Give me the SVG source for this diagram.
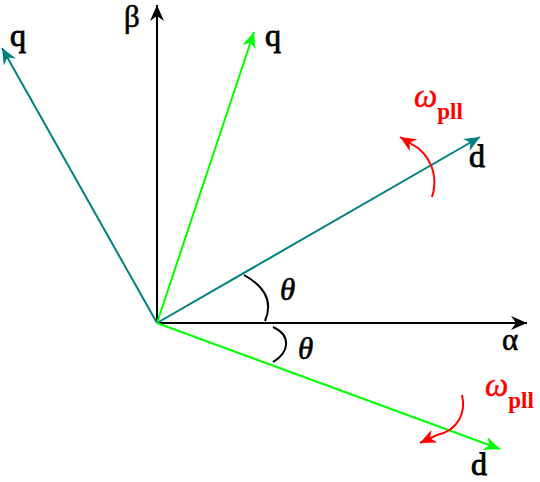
<svg xmlns="http://www.w3.org/2000/svg" width="540" height="482" viewBox="0 0 540 482">
<style>
.ax{stroke:#000;stroke-width:2;fill:none}
.teal{stroke:#008080;stroke-width:2;fill:none}
.grn{stroke:#00ff00;stroke-width:2;fill:none}
.red{stroke:#ff0000;stroke-width:2;fill:none}
.arc{stroke:#000;stroke-width:2;fill:none}
.lbl{font-family:"Liberation Serif","Times New Roman",serif;font-size:32px;fill:#000;stroke:#000;stroke-width:0.9}
.gk{font-family:"Liberation Serif","Times New Roman",serif;font-size:31px;fill:#000;stroke:#000;stroke-width:0.6}
.th{font-family:"Liberation Serif","Times New Roman",serif;font-size:31px;font-style:italic;fill:#000;stroke:#000;stroke-width:0.6}
.om{font-family:"Liberation Serif","Times New Roman",serif;font-size:33px;font-style:italic;fill:#ff0000;stroke:#ff0000;stroke-width:0.5}
.sub{font-size:23px;font-weight:bold;font-style:normal;stroke-width:0}
</style>
<defs>
<marker id="mk" viewBox="-16 -7 17 14" markerWidth="17" markerHeight="14" refX="0" refY="0" orient="auto" markerUnits="userSpaceOnUse"><path d="M0,0 L-16,-7 L-11,0 L-16,7 z" fill="#000"/></marker>
<marker id="mt" viewBox="-16 -7 17 14" markerWidth="17" markerHeight="14" refX="0" refY="0" orient="auto" markerUnits="userSpaceOnUse"><path d="M0,0 L-16,-7 L-11,0 L-16,7 z" fill="#008080"/></marker>
<marker id="mg" viewBox="-16 -7 17 14" markerWidth="17" markerHeight="14" refX="0" refY="0" orient="auto" markerUnits="userSpaceOnUse"><path d="M0,0 L-16,-7 L-11,0 L-16,7 z" fill="#00ff00"/></marker>
<marker id="mr" viewBox="-16 -7 17 14" markerWidth="17" markerHeight="14" refX="0" refY="0" orient="auto" markerUnits="userSpaceOnUse"><path d="M0,0 L-16,-7 L-11,0 L-16,7 z" fill="#ff0000"/></marker>
</defs>
<g id="connectors">
<line class="ax" x1="157" y1="323" x2="527" y2="323" marker-end="url(#mk)"/>
<line class="ax" x1="157" y1="323" x2="157" y2="5" marker-end="url(#mk)"/>
<line class="teal" x1="157" y1="323" x2="2" y2="48" marker-end="url(#mt)"/>
<line class="grn" x1="157" y1="323" x2="254" y2="32" marker-end="url(#mg)"/>
<line class="teal" x1="157" y1="323" x2="480" y2="137" marker-end="url(#mt)"/>
<line class="grn" x1="157" y1="323" x2="500" y2="449" marker-end="url(#mg)"/>
<path class="arc" d="M244,275 C262,285 274,300 265,321"/>
<path class="arc" d="M273,327 C291,335 290,352 273,362"/>
<path class="red" d="M432,197 C437,182 435,162 418,148 L400,137" marker-end="url(#mr)"/>
<path class="red" d="M462,395 C466,412 459,430 437,435 L420,443" marker-end="url(#mr)"/>
</g>
<g id="labels">
<text class="lbl" x="10" y="46">q</text>
<text class="gk" x="124" y="27">β</text>
<text class="lbl" x="265" y="46">q</text>
<text class="lbl" x="469" y="167">d</text>
<text class="gk" x="502" y="350">α</text>
<text class="lbl" x="471" y="475">d</text>
<text class="th" x="280" y="300">θ</text>
<text class="th" x="298" y="359">θ</text>
<text class="om" x="414" y="107">ω<tspan class="sub" dy="12">pll</tspan></text>
<text class="om" x="485" y="396">ω<tspan class="sub" dy="12">pll</tspan></text>
</g>
</svg>
